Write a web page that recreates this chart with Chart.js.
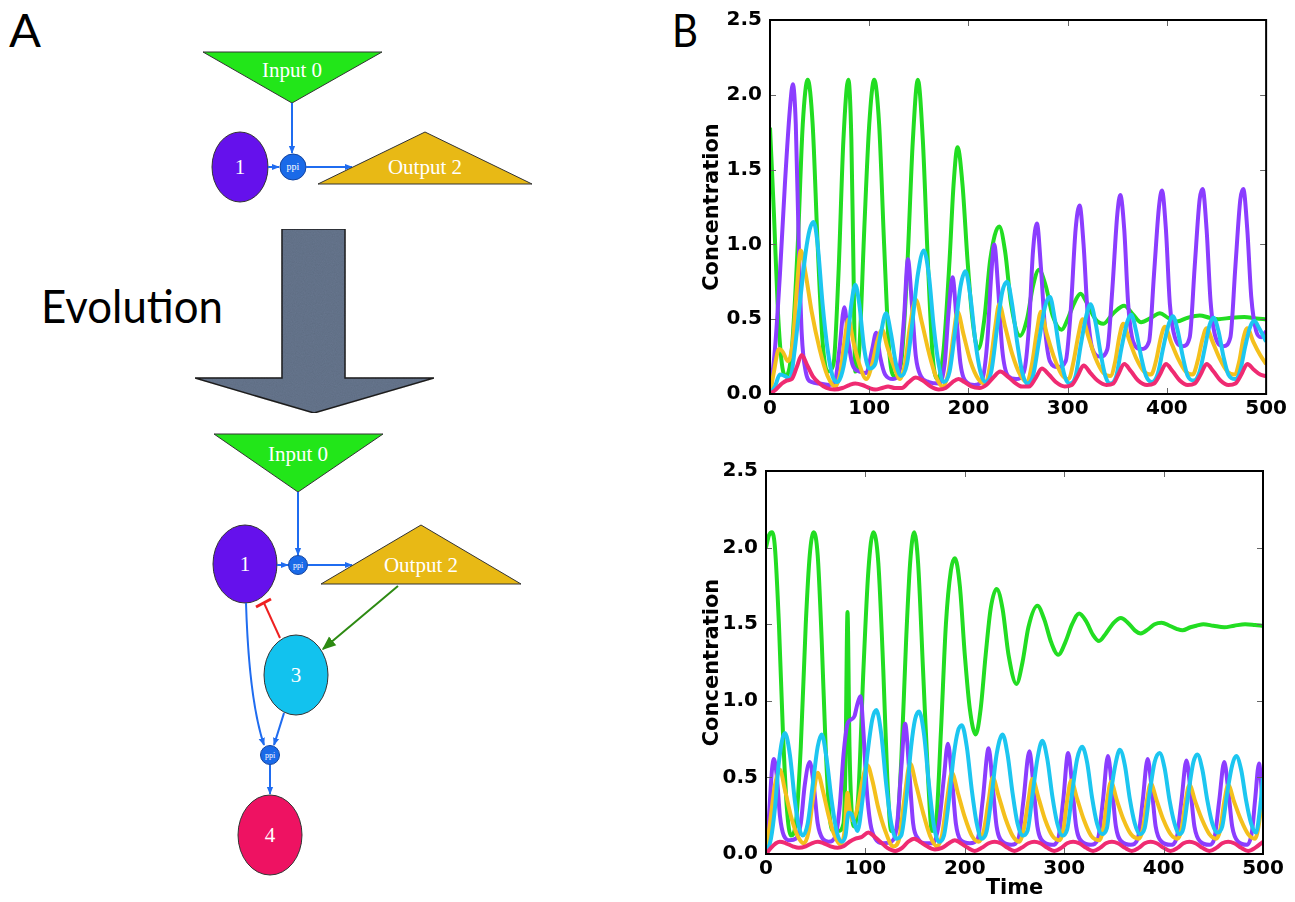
<!DOCTYPE html>
<html><head><meta charset="utf-8">
<script src="https://cdn.jsdelivr.net/npm/chart.js@4.4.0/dist/chart.umd.min.js"></script>
<style>
html,body{margin:0;padding:0;background:#fff;width:1295px;height:902px;overflow:hidden;position:relative}
#wrapTop{position:absolute;left:690px;top:0;width:600px;height:440px}
#wrapBot{position:absolute;left:690px;top:450px;width:600px;height:452px}
svg{position:absolute;left:0;top:0}
</style></head>
<body>
<svg width="1295" height="902" xmlns="http://www.w3.org/2000/svg">
<defs>
<marker id="ab" viewBox="0 0 10 10" refX="9" refY="5" markerWidth="4" markerHeight="4" orient="auto" markerUnits="strokeWidth"><path d="M0,1 L10,5 L0,9z" fill="#1f6cf0"/></marker>
<marker id="ag" viewBox="0 0 10 10" refX="9" refY="5" markerWidth="7" markerHeight="7" orient="auto" markerUnits="strokeWidth"><path d="M0,1 L10,5 L0,9z" fill="#2d8a12"/></marker>
<filter id="grain" x="0" y="0" width="100%" height="100%">
<feTurbulence type="fractalNoise" baseFrequency="0.9" numOctaves="2" seed="3" result="n"/>
<feColorMatrix in="n" type="matrix" values="0 0 0 0 0  0 0 0 0 0  0 0 0 0 0  0 0 0 0.18 0" result="na"/>
<feComposite in="na" in2="SourceGraphic" operator="in" result="nc"/>
<feMerge><feMergeNode in="SourceGraphic"/><feMergeNode in="nc"/></feMerge>
</filter>
</defs>
<text x="9" y="47" font-family="Lato" font-size="46" textLength="32" lengthAdjust="spacingAndGlyphs" fill="#000">A</text>
<text x="672" y="47" font-family="Lato" font-size="46" textLength="26" lengthAdjust="spacingAndGlyphs" fill="#000">B</text>
<text x="41" y="323" font-family="Lato" font-size="46" textLength="182" lengthAdjust="spacingAndGlyphs" fill="#000">Evolution</text>
<!-- upper network -->
<g font-family="Liberation Serif" fill="#fff" text-anchor="middle">
<polygon points="203,52 382,52 292,103" fill="#22e619" stroke="#333" stroke-width="1"/>
<text x="292" y="77" font-size="21">Input 0</text>
<line x1="292" y1="103" x2="292" y2="153" stroke="#1f6cf0" stroke-width="2" marker-end="url(#ab)"/>
<ellipse cx="240" cy="167" rx="28" ry="35" fill="#6511ec" stroke="#333" stroke-width="1"/>
<text x="240" y="174" font-size="21">1</text>
<line x1="268" y1="167" x2="279" y2="167" stroke="#1f6cf0" stroke-width="2" marker-end="url(#ab)"/>
<circle cx="293" cy="167" r="13" fill="#1a6ae8" stroke="#1444a0" stroke-width="1"/>
<text x="293" y="170" font-size="10">ppi</text>
<line x1="306" y1="167" x2="352" y2="167" stroke="#1f6cf0" stroke-width="2" marker-end="url(#ab)"/>
<polygon points="425,132 318,184 532,184" fill="#e8b915" stroke="#333" stroke-width="1"/>
<text x="425" y="174" font-size="21">Output 2</text>
</g>
<!-- evolution arrow -->
<polygon points="282,229 345,229 345,378 434,378 314,413 195,378 282,378" fill="#67778f" stroke="#222" stroke-width="1.5" filter="url(#grain)"/>
<!-- lower network -->
<g font-family="Liberation Serif" fill="#fff" text-anchor="middle">
<polygon points="214,434 383,434 298,492" fill="#22e619" stroke="#333" stroke-width="1"/>
<text x="298" y="461" font-size="21">Input 0</text>
<line x1="298" y1="492" x2="298" y2="555" stroke="#1f6cf0" stroke-width="2" marker-end="url(#ab)"/>
<ellipse cx="245" cy="564" rx="32" ry="39" fill="#6511ec" stroke="#333" stroke-width="1"/>
<text x="245" y="571" font-size="21">1</text>
<line x1="277" y1="565" x2="288" y2="565" stroke="#1f6cf0" stroke-width="2" marker-end="url(#ab)"/>
<line x1="308" y1="565" x2="352" y2="565" stroke="#1f6cf0" stroke-width="2" marker-end="url(#ab)"/>
<polygon points="421,525 321,584 521,584" fill="#e8b915" stroke="#333" stroke-width="1"/>
<text x="421" y="572" font-size="21">Output 2</text>
<line x1="398" y1="586" x2="323" y2="649" stroke="#2d8a12" stroke-width="2" marker-end="url(#ag)"/>
<line x1="280" y1="638" x2="264" y2="603" stroke="#ee2020" stroke-width="2"/>
<line x1="256" y1="607" x2="271" y2="599" stroke="#ee2020" stroke-width="3"/>
<path d="M246,603 Q249,700 264,745" fill="none" stroke="#1f6cf0" stroke-width="2" marker-end="url(#ab)"/>
<line x1="284" y1="713" x2="274" y2="745" stroke="#1f6cf0" stroke-width="2" marker-end="url(#ab)"/>
<ellipse cx="296" cy="675" rx="32" ry="40" fill="#12c2ee" stroke="#333" stroke-width="1"/>
<text x="296" y="682" font-size="21">3</text>
<circle cx="298" cy="565" r="9.5" fill="#1a6ae8" stroke="#1444a0" stroke-width="1"/>
<text x="298" y="568" font-size="8">ppi</text>
<circle cx="270" cy="755" r="9.5" fill="#1a6ae8" stroke="#1444a0" stroke-width="1"/>
<text x="270" y="758" font-size="8">ppi</text>
<line x1="270" y1="765" x2="270" y2="794" stroke="#1f6cf0" stroke-width="2" marker-end="url(#ab)"/>
<ellipse cx="270" cy="835" rx="32" ry="40" fill="#ee1262" stroke="#333" stroke-width="1"/>
<text x="270" y="842" font-size="21">4</text>
</g>
</svg>
<div id="wrapTop"><canvas id="cTop" width="600" height="440"></canvas></div>
<div id="wrapBot"><canvas id="cBot" width="600" height="452"></canvas></div>
<script>
// ---- tick labels ----
const xTicks = [0, 100, 200, 300, 400, 500];
const yTicks = [0, 0.5, 1.0, 1.5, 2.0, 2.5];
const seriesNames = ["Input 0", "1", "Output 2", "3", "4"];

// ---- top panel (original network) : [time, concentration] ----
const topInput0 = [[0,1.78],[4,1.2],[8,0.55],[12,0.2],[16,0.12],[22,0.3],[28,1.0],[33,1.8],[38,2.1],[43,1.8],[48,1.0],[53,0.35],[58,0.15],[64,0.2],[69,0.8],[74,1.7],[79,2.1],[82,1.7],[84,0.9],[86,0.15],[90,0.3],[95,1.1],[100,1.8],[105,2.1],[110,1.8],[115,1.0],[120,0.3],[125,0.12],[132,0.2],[138,0.8],[144,1.7],[149,2.1],[154,1.7],[159,0.9],[164,0.25],[169,0.1],[175,0.3],[181,0.9],[185,1.4],[189,1.65],[194,1.4],[199,0.9],[204,0.5],[210,0.3],[216,0.5],[222,0.9],[231,1.12],[237,0.95],[243,0.6],[252,0.39],[259,0.5],[265,0.72],[271,0.83],[278,0.72],[285,0.52],[294,0.43],[300,0.5],[306,0.6],[313,0.67],[320,0.6],[328,0.5],[336,0.47],[346,0.54],[357,0.59],[366,0.53],[374,0.48],[384,0.51],[393,0.54],[401,0.51],[410,0.485],[421,0.51],[433,0.525],[443,0.51],[452,0.5],[465,0.51],[478,0.515],[490,0.505],[500,0.5]];
const topNode1 = [[0,0.0],[5,0.3],[10,0.8],[15,1.4],[20,1.9],[23,2.07],[26,1.8],[29,1.0],[32,0.4],[36,0.15],[42,0.08],[50,0.07],[60,0.06],[66,0.1],[70,0.3],[75,0.58],[79,0.35],[83,0.2],[90,0.15],[97,0.14],[103,0.3],[107,0.41],[111,0.25],[116,0.13],[124,0.1],[130,0.15],[135,0.5],[139,0.9],[143,0.6],[147,0.25],[152,0.12],[160,0.08],[170,0.07],[176,0.2],[180,0.55],[184,0.78],[188,0.5],[192,0.2],[198,0.08],[206,0.06],[214,0.1],[219,0.35],[223,0.8],[226,1.0],[230,0.7],[234,0.3],[240,0.12],[248,0.1],[256,0.15],[261,0.45],[265,0.95],[269,1.14],[273,0.85],[277,0.45],[282,0.22],[290,0.18],[298,0.22],[303,0.55],[308,1.1],[312,1.26],[316,1.0],[320,0.55],[325,0.3],[333,0.25],[340,0.3],[345,0.7],[350,1.2],[353,1.33],[357,1.1],[361,0.6],[366,0.35],[374,0.3],[382,0.35],[387,0.8],[392,1.25],[395,1.36],[399,1.1],[403,0.6],[408,0.38],[416,0.32],[423,0.38],[428,0.85],[433,1.3],[436,1.37],[440,1.1],[444,0.62],[449,0.38],[457,0.32],[464,0.38],[469,0.85],[474,1.3],[477,1.37],[481,1.1],[485,0.65],[490,0.42],[495,0.38],[500,0.42]];
const topOutput2 = [[0,0],[4,0.15],[9,0.3],[13,0.28],[18,0.22],[23,0.35],[27,0.7],[31,0.96],[36,0.8],[42,0.55],[50,0.3],[58,0.12],[66,0.05],[71,0.15],[75,0.35],[79,0.5],[84,0.35],[90,0.2],[97,0.1],[103,0.2],[108,0.35],[113,0.43],[118,0.32],[124,0.2],[131,0.1],[136,0.2],[141,0.45],[147,0.63],[153,0.48],[160,0.28],[167,0.12],[174,0.05],[180,0.15],[185,0.4],[189,0.55],[195,0.4],[202,0.22],[210,0.1],[217,0.07],[222,0.2],[227,0.45],[231,0.6],[237,0.45],[244,0.27],[252,0.13],[259,0.08],[264,0.2],[269,0.42],[273,0.55],[279,0.4],[286,0.25],[294,0.13],[301,0.1],[306,0.22],[311,0.4],[315,0.5],[321,0.38],[328,0.24],[336,0.14],[343,0.12],[348,0.22],[352,0.38],[356,0.47],[362,0.36],[369,0.24],[377,0.15],[384,0.13],[389,0.22],[394,0.38],[398,0.45],[404,0.35],[411,0.24],[419,0.15],[426,0.13],[431,0.22],[436,0.37],[440,0.44],[446,0.35],[453,0.24],[461,0.15],[468,0.13],[473,0.22],[477,0.37],[481,0.44],[487,0.35],[494,0.26],[500,0.2]];
const topNode3 = [[0,0],[5,0.05],[10,0.13],[15,0.12],[20,0.1],[25,0.3],[30,0.6],[36,0.95],[40,1.1],[44,1.15],[48,1.0],[53,0.6],[58,0.3],[63,0.12],[68,0.08],[73,0.15],[78,0.35],[82,0.6],[86,0.73],[90,0.6],[95,0.3],[100,0.17],[106,0.2],[111,0.38],[117,0.54],[122,0.4],[127,0.2],[132,0.12],[138,0.2],[143,0.45],[149,0.8],[155,0.96],[160,0.8],[165,0.45],[170,0.2],[175,0.08],[181,0.15],[187,0.45],[192,0.72],[197,0.82],[202,0.65],[207,0.35],[212,0.15],[217,0.08],[223,0.15],[229,0.45],[234,0.68],[239,0.75],[244,0.6],[249,0.35],[254,0.15],[259,0.07],[265,0.12],[271,0.35],[277,0.58],[282,0.65],[287,0.5],[292,0.28],[297,0.12],[302,0.07],[308,0.12],[313,0.32],[319,0.53],[323,0.6],[328,0.48],[333,0.28],[338,0.12],[343,0.07],[349,0.12],[354,0.3],[360,0.48],[364,0.53],[369,0.42],[374,0.25],[379,0.12],[385,0.08],[391,0.14],[396,0.3],[402,0.47],[406,0.52],[411,0.42],[416,0.25],[421,0.12],[427,0.09],[433,0.15],[438,0.3],[443,0.46],[447,0.51],[452,0.42],[457,0.25],[462,0.13],[469,0.1],[474,0.16],[479,0.32],[484,0.45],[488,0.49],[493,0.44],[500,0.35]];
const topNode4 = [[0,0],[6,0.03],[12,0.07],[17,0.09],[22,0.1],[27,0.18],[32,0.26],[37,0.2],[43,0.12],[50,0.07],[57,0.04],[65,0.03],[73,0.04],[80,0.06],[86,0.07],[93,0.06],[100,0.04],[106,0.03],[113,0.04],[119,0.05],[126,0.04],[133,0.04],[140,0.08],[147,0.11],[154,0.09],[162,0.05],[170,0.03],[177,0.04],[184,0.08],[190,0.1],[196,0.08],[203,0.05],[211,0.04],[218,0.06],[225,0.11],[232,0.15],[239,0.12],[246,0.08],[254,0.05],[261,0.05],[268,0.11],[274,0.17],[281,0.13],[288,0.08],[297,0.05],[304,0.06],[310,0.12],[316,0.19],[323,0.14],[330,0.09],[339,0.06],[346,0.07],[351,0.13],[357,0.2],[364,0.15],[371,0.09],[380,0.06],[387,0.07],[393,0.13],[399,0.2],[406,0.15],[413,0.09],[421,0.06],[428,0.07],[434,0.13],[440,0.2],[447,0.15],[454,0.09],[462,0.06],[469,0.07],[475,0.13],[481,0.2],[488,0.16],[494,0.13],[500,0.12]];

// ---- bottom panel (evolved network) ----
const botInput0 = [[0,2.0],[3,2.08],[6,2.1],[9,2.0],[13,1.5],[17,0.8],[21,0.3],[25,0.12],[30,0.2],[35,0.7],[40,1.5],[44,1.95],[48,2.1],[52,1.95],[56,1.4],[60,0.7],[64,0.25],[68,0.15],[73,0.15],[78,0.2],[80,0.6],[82,1.58],[84,0.7],[86,0.3],[89,0.18],[93,0.4],[98,1.2],[103,1.85],[108,2.1],[113,1.9],[118,1.2],[122,0.5],[126,0.15],[131,0.15],[136,0.6],[141,1.4],[145,1.9],[149,2.1],[153,1.9],[158,1.2],[163,0.5],[167,0.15],[171,0.2],[176,0.8],[181,1.5],[186,1.85],[190,1.93],[195,1.75],[200,1.3],[205,0.95],[211,0.78],[216,0.95],[221,1.3],[226,1.6],[232,1.73],[238,1.6],[244,1.3],[252,1.11],[258,1.25],[264,1.48],[273,1.62],[280,1.53],[287,1.38],[294,1.3],[301,1.38],[308,1.5],[315,1.57],[322,1.52],[329,1.43],[335,1.39],[342,1.44],[350,1.51],[357,1.54],[364,1.51],[371,1.46],[377,1.44],[385,1.47],[391,1.5],[398,1.51],[406,1.49],[413,1.47],[419,1.46],[427,1.48],[433,1.49],[440,1.5],[450,1.49],[461,1.48],[471,1.49],[482,1.5],[492,1.495],[500,1.49]];
const botNode1 = [[0,0],[3,0.25],[6,0.55],[8,0.62],[11,0.5],[14,0.25],[18,0.12],[24,0.09],[30,0.1],[35,0.2],[39,0.45],[44,0.6],[48,0.45],[52,0.2],[57,0.1],[63,0.08],[70,0.12],[74,0.3],[78,0.65],[82,0.85],[86,0.88],[89,0.9],[92,0.98],[95,1.03],[98,0.8],[101,0.45],[105,0.2],[110,0.1],[118,0.07],[126,0.08],[132,0.2],[136,0.55],[140,0.85],[144,0.55],[148,0.2],[153,0.1],[160,0.07],[168,0.07],[174,0.2],[179,0.5],[183,0.72],[187,0.5],[191,0.2],[196,0.09],[205,0.07],[213,0.1],[218,0.35],[224,0.69],[228,0.45],[232,0.18],[238,0.08],[247,0.06],[254,0.1],[259,0.35],[265,0.67],[269,0.45],[273,0.18],[279,0.08],[288,0.06],[294,0.1],[299,0.35],[304,0.66],[308,0.45],[312,0.18],[318,0.08],[327,0.06],[334,0.1],[339,0.35],[344,0.64],[348,0.44],[352,0.18],[358,0.08],[367,0.06],[374,0.1],[379,0.35],[384,0.62],[388,0.43],[392,0.18],[398,0.08],[407,0.06],[413,0.1],[418,0.35],[423,0.61],[427,0.42],[431,0.18],[437,0.08],[446,0.06],[451,0.1],[456,0.35],[461,0.6],[465,0.42],[469,0.18],[475,0.08],[484,0.06],[489,0.15],[492,0.35],[496,0.59],[500,0.28]];
const botOutput2 = [[0,0],[4,0.2],[9,0.45],[14,0.55],[19,0.42],[25,0.25],[31,0.13],[38,0.07],[43,0.15],[47,0.35],[52,0.53],[57,0.42],[63,0.25],[69,0.12],[75,0.06],[79,0.15],[82,0.4],[84,0.3],[87,0.22],[92,0.3],[97,0.48],[102,0.58],[107,0.48],[113,0.3],[120,0.15],[128,0.05],[134,0.1],[139,0.35],[145,0.59],[151,0.45],[158,0.27],[165,0.12],[172,0.05],[177,0.12],[182,0.35],[187,0.53],[193,0.4],[200,0.24],[207,0.12],[214,0.08],[219,0.15],[224,0.35],[228,0.5],[234,0.38],[241,0.23],[248,0.12],[255,0.08],[259,0.15],[264,0.35],[268,0.49],[274,0.37],[281,0.22],[288,0.12],[295,0.09],[299,0.15],[303,0.35],[307,0.48],[313,0.36],[320,0.22],[327,0.12],[335,0.09],[339,0.15],[343,0.34],[347,0.47],[353,0.35],[360,0.22],[367,0.13],[375,0.1],[379,0.16],[383,0.34],[387,0.46],[393,0.35],[400,0.22],[407,0.13],[414,0.1],[418,0.16],[422,0.34],[426,0.45],[432,0.34],[439,0.22],[446,0.13],[453,0.1],[457,0.16],[461,0.34],[465,0.45],[471,0.34],[478,0.22],[485,0.13],[492,0.1],[496,0.2],[500,0.42]];
const botNode3 = [[0,0],[5,0.1],[9,0.3],[13,0.6],[19,0.79],[24,0.65],[29,0.35],[33,0.18],[37,0.12],[42,0.2],[47,0.45],[52,0.7],[56,0.78],[61,0.62],[66,0.35],[71,0.15],[76,0.08],[80,0.12],[83,0.27],[86,0.26],[89,0.2],[92,0.15],[97,0.35],[102,0.65],[107,0.88],[111,0.94],[116,0.78],[121,0.45],[126,0.2],[131,0.1],[136,0.12],[141,0.35],[146,0.7],[150,0.88],[154,0.93],[159,0.78],[164,0.45],[169,0.18],[174,0.08],[179,0.12],[184,0.35],[189,0.65],[193,0.8],[197,0.84],[202,0.7],[207,0.42],[212,0.2],[217,0.1],[222,0.15],[227,0.38],[232,0.65],[238,0.78],[243,0.65],[248,0.4],[253,0.2],[258,0.12],[263,0.15],[268,0.38],[273,0.62],[278,0.74],[283,0.62],[288,0.38],[293,0.2],[298,0.12],[303,0.16],[308,0.4],[313,0.62],[318,0.7],[323,0.6],[328,0.37],[333,0.2],[338,0.13],[343,0.17],[347,0.4],[352,0.6],[356,0.68],[361,0.58],[366,0.36],[371,0.2],[376,0.13],[381,0.17],[386,0.4],[391,0.6],[396,0.66],[401,0.56],[406,0.35],[411,0.2],[416,0.13],[420,0.17],[425,0.4],[430,0.6],[434,0.65],[439,0.55],[444,0.35],[449,0.2],[454,0.14],[459,0.18],[464,0.4],[469,0.58],[473,0.64],[478,0.55],[483,0.35],[488,0.2],[493,0.14],[497,0.3],[500,0.5]];
const botNode4 = [[0,0],[5,0.04],[10,0.07],[14,0.08],[20,0.07],[27,0.05],[33,0.04],[40,0.05],[46,0.07],[52,0.08],[58,0.07],[65,0.05],[72,0.04],[78,0.05],[84,0.08],[90,0.1],[96,0.11],[103,0.14],[108,0.12],[115,0.08],[122,0.04],[130,0.02],[137,0.04],[143,0.08],[149,0.1],[155,0.08],[162,0.05],[170,0.03],[177,0.04],[184,0.07],[190,0.09],[196,0.07],[203,0.04],[210,0.02],[217,0.04],[224,0.07],[230,0.08],[236,0.07],[243,0.04],[250,0.02],[257,0.04],[264,0.07],[270,0.08],[276,0.07],[283,0.04],[290,0.02],[297,0.04],[303,0.07],[309,0.08],[315,0.07],[322,0.04],[329,0.02],[336,0.04],[342,0.07],[348,0.08],[354,0.07],[361,0.04],[368,0.02],[375,0.04],[381,0.07],[387,0.08],[393,0.07],[400,0.04],[407,0.02],[414,0.04],[420,0.07],[426,0.08],[432,0.07],[439,0.04],[446,0.02],[453,0.04],[459,0.07],[465,0.08],[471,0.07],[478,0.04],[485,0.02],[492,0.04],[500,0.08]];

const colors = {input0:'#22dd22', node1:'#8b3dff', output2:'#f4c01c', node3:'#1cc6f0', node4:'#ef2b72'};

function ds(label, arr, color){
  return {label, data: arr.map(([x,y])=>({x,y})), borderColor: color, borderWidth: 4,
    pointRadius: 0, fill: false, cubicInterpolationMode: 'monotone'};
}

const framePlugin = {
  id: 'frame',
  afterDatasetsDraw(chart){
    const {ctx, chartArea: a, scales: {x, y}} = chart;
    ctx.save();
    ctx.strokeStyle = '#666'; ctx.lineWidth = 1;
    ctx.beginPath();
    x.ticks.forEach(t => {
      const p = Math.round(x.getPixelForValue(t.value)) + 0.5;
      ctx.moveTo(p, a.bottom); ctx.lineTo(p, a.bottom - 6);
      ctx.moveTo(p, a.top); ctx.lineTo(p, a.top + 6);
    });
    y.ticks.forEach(t => {
      const p = Math.round(y.getPixelForValue(t.value)) + 0.5;
      ctx.moveTo(a.left, p); ctx.lineTo(a.left + 6, p);
      ctx.moveTo(a.right, p); ctx.lineTo(a.right - 6, p);
    });
    ctx.stroke();
    ctx.strokeStyle = '#000'; ctx.lineWidth = 2;
    ctx.strokeRect(a.left, a.top, a.right - a.left, a.bottom - a.top);
    ctx.restore();
  }
};

const tickFont = {family: 'DejaVu Sans', weight: 'bold', size: 20};
const titleFont = {family: 'DejaVu Sans', weight: 'bold', size: 21};

function makeChart(id, sets, geom){
  return new Chart(document.getElementById(id), {
    type: 'line',
    data: {datasets: sets},
    options: {
      responsive: false, animation: false, devicePixelRatio: 1,
      layout: {padding: {top: geom.top, right: geom.right, left: 0, bottom: 0}},
      plugins: {legend: {display: false}, tooltip: {enabled: false}},
      scales: {
        x: {type: 'linear', min: 0, max: 500,
          afterBuildTicks: s => { s.ticks = xTicks.map(v => ({value: v})); },
          ticks: {font: tickFont, color: '#000', padding: 3, maxRotation: 0, autoSkip: false, callback: v => String(v)},
          grid: {display: false, drawTicks: false}, border: {display: false},
          title: {display: geom.xTitle, text: 'Time', font: titleFont, color: '#000', padding: {top: 0, bottom: 1}},
          afterFit: s => { s.height = geom.xh; }
        },
        y: {min: 0, max: 2.5,
          afterBuildTicks: s => { s.ticks = yTicks.map(v => ({value: v})); },
          ticks: {font: tickFont, color: '#000', padding: 8, callback: v => Number(v).toFixed(1)},
          grid: {display: false, drawTicks: false}, border: {display: false},
          title: {display: true, text: 'Concentration', font: titleFont, color: '#000', padding: {top: 10, bottom: 0}},
          afterFit: s => { s.width = geom.yw; }
        }
      }
    },
    plugins: [framePlugin]
  });
}

makeChart('cTop', [
  ds('4', topNode4, colors.node4),
  ds('3', topNode3, colors.node3),
  ds('Output 2', topOutput2, colors.output2),
  ds('1', topNode1, colors.node1),
  ds('Input 0', topInput0, colors.input0)
], {top: 11, right: 23, yw: 80, xh: 46, xTitle: false});

makeChart('cBot', [
  ds('4', botNode4, colors.node4),
  ds('3', botNode3, colors.node3),
  ds('Output 2', botOutput2, colors.output2),
  ds('1', botNode1, colors.node1),
  ds('Input 0', botInput0, colors.input0)
], {top: 21, right: 27, yw: 76, xh: 48, xTitle: true});
</script>
</body></html>
